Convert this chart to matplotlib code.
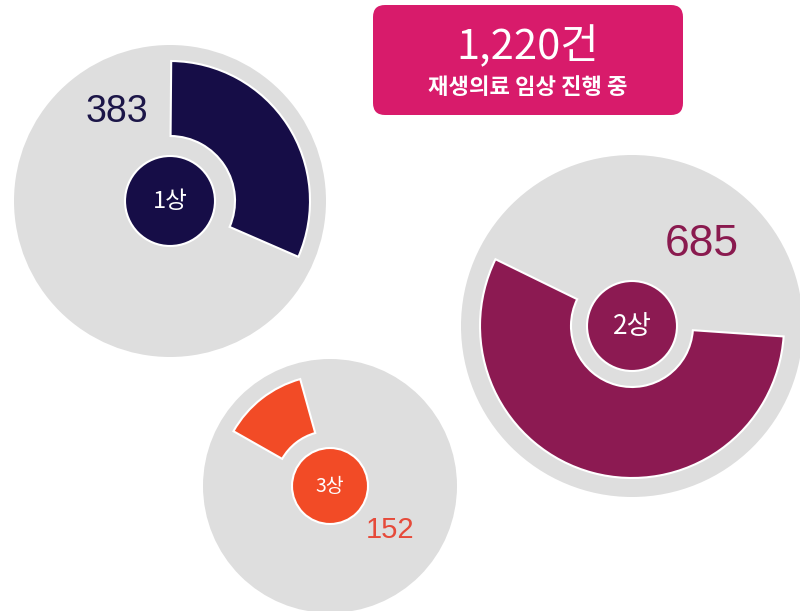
import numpy as np
import matplotlib
matplotlib.use('Agg')
import matplotlib.pyplot as plt
from matplotlib.patches import Circle, Wedge, FancyBboxPatch

plt.rcParams['font.family'] = ['Liberation Sans', 'Noto Sans CJK KR']

# 데이터
phases = ['1상', '2상', '3상']
counts = [383, 685, 152]
total = 1220
title_main = '1,220건'
title_sub = '재생의료 임상 진행 중'

colors = ['#160d47', '#8c1a52', '#f24b26']
label_colors = ['#1c1648', '#8a1a4f', '#e64a3a']

# 배치 (픽셀 좌표, y는 위에서 아래로)
W, H = 800, 611
centers = [(170, 201), (632, 326), (330, 486)]
bg_r = [156, 171, 127]
inner_r = [45, 45, 38]
wedge_in = [65, 61, 55]
wedge_out = [140, 152, 111]
mid_angle = [33, 255, 128]
name_size = [17, 19, 14]
num_pos = [(117, 112), (702, 245), (390, 530)]
num_size = [27, 32, 21]

fig = plt.figure(figsize=(W / 100, H / 100), dpi=100)
ax = fig.add_axes([0, 0, 1, 1])
ax.set_xlim(0, W)
ax.set_ylim(0, H)
ax.set_aspect('equal')
ax.axis('off')

for i in range(3):
    cx, cy = centers[i][0], H - centers[i][1]
    ax.add_patch(Circle((cx, cy), bg_r[i], color='#dedede', lw=0, zorder=1))

    sweep = counts[i] / total * 360
    t1 = mid_angle[i] - sweep / 2
    t2 = mid_angle[i] + sweep / 2
    ax.add_patch(Wedge((cx, cy), wedge_out[i], t1, t2,
                       width=wedge_out[i] - wedge_in[i],
                       facecolor=colors[i], edgecolor='white', lw=1.5, zorder=2))

    ax.add_patch(Circle((cx, cy), inner_r[i], facecolor=colors[i],
                        edgecolor='white', lw=1.5, zorder=3))
    ax.text(cx, cy, phases[i], color='white', fontsize=name_size[i],
            ha='center', va='center', family=['Noto Sans CJK KR'], zorder=4)

    nx, ny = num_pos[i]
    ax.text(nx, H - ny, f'{counts[i]}', color=label_colors[i], fontsize=num_size[i],
            ha='center', va='center', zorder=4)

# 제목 박스
ax.add_patch(FancyBboxPatch((373, H - 115), 310, 110,
                            boxstyle='round,pad=0,rounding_size=12',
                            facecolor='#d81b6b', edgecolor='none', zorder=5))
ax.text(528, H - 47, title_main, color='white', fontsize=30, fontweight='medium',
        ha='center', va='center', family=['Noto Sans CJK KR'], zorder=6)
ax.text(528, H - 88, title_sub, color='white', fontsize=16, fontweight='bold',
        ha='center', va='center', family=['Noto Sans CJK KR'], zorder=6)

fig.savefig('out.png', dpi=100)
